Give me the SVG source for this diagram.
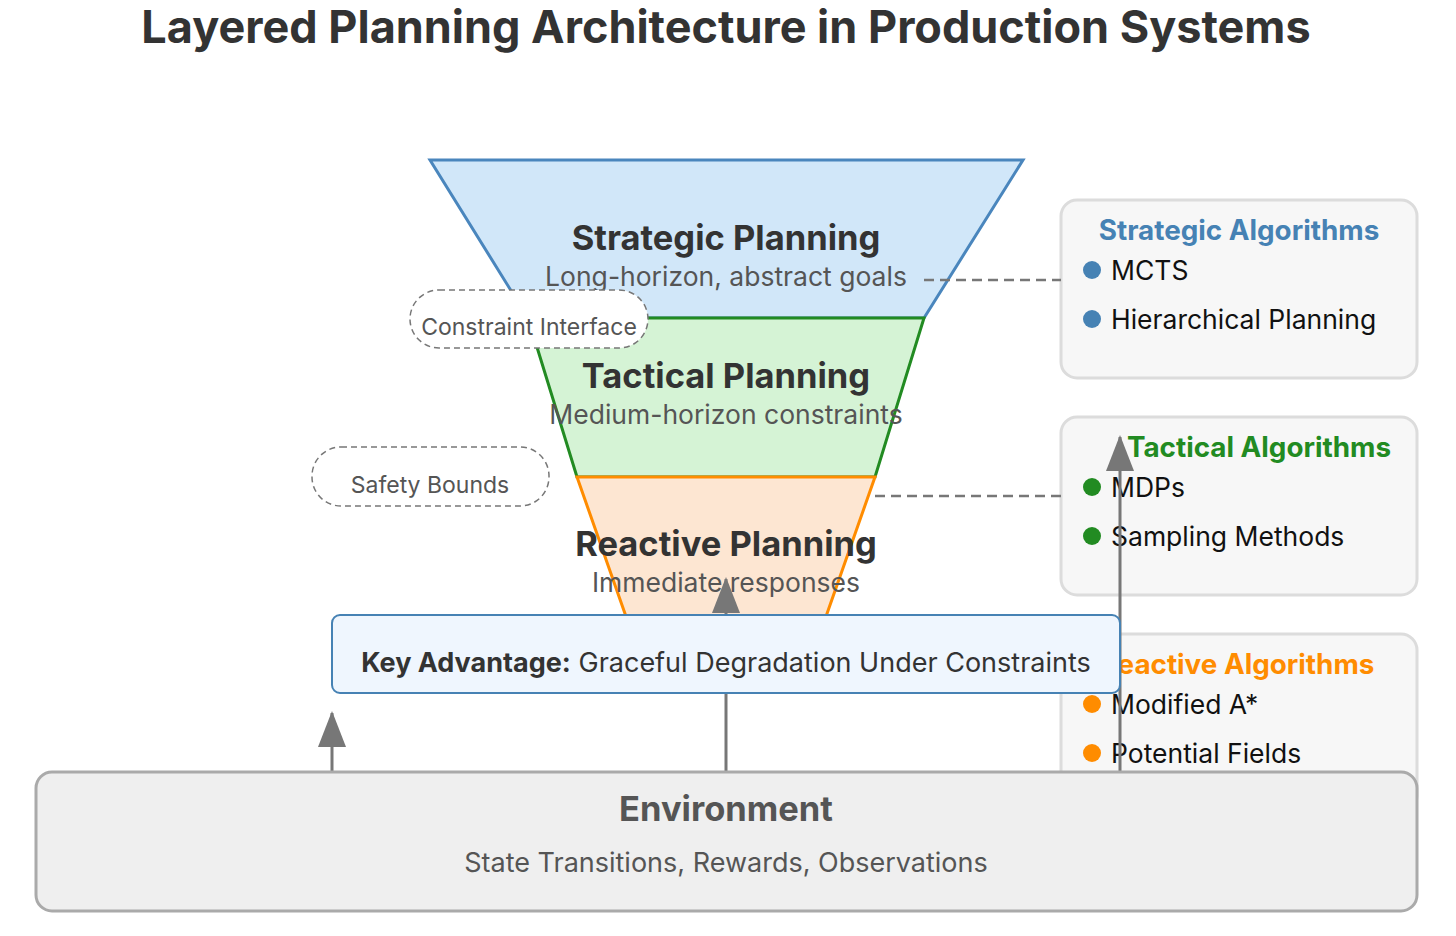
<svg xmlns="http://www.w3.org/2000/svg" width="1456" height="936" viewBox="0 0 1456 936">
<style>
text{font-family:Inter,"Noto Sans","Liberation Sans",sans-serif}
.title{font-size:45px;font-weight:700;fill:#333;text-anchor:middle}
.lt{font-size:34.5px;font-weight:700;fill:#333;text-anchor:middle}
.ld{font-size:26.5px;fill:#555;text-anchor:middle}
.bub{fill:#fff;stroke:#777;stroke-width:1.5;stroke-dasharray:6,4}
.bt{font-size:23px;fill:#555;text-anchor:middle}
.alg{fill:#f7f7f7;stroke:#dcdcdc;stroke-width:3}
.at{font-size:27.8px;font-weight:700;text-anchor:middle}
.it{font-size:26.5px;fill:#111}
.dash{stroke:#777;stroke-width:2.5;stroke-dasharray:10,6;fill:none}
.conn{stroke:#777;stroke-width:3;fill:none;marker-end:url(#ah)}
</style>
<defs>
<marker id="ah" markerUnits="userSpaceOnUse" markerWidth="36" markerHeight="28" refX="34" refY="14" orient="auto" viewBox="0 0 36 28">
<path d="M0,0 L36,14 L0,28 z" fill="#777"/>
</marker>
</defs>
<rect width="1456" height="936" fill="#fff"/>
<text class="title" x="726" y="43">Layered Planning Architecture in Production Systems</text>

<g id="strategic">
<polygon points="430,160 1023,160 924,318 528,318" fill="#d1e7f9" stroke="#4a86bd" stroke-width="3"/>
<text class="lt" x="726" y="250">Strategic Planning</text>
<text class="ld" x="726" y="286">Long-horizon, abstract goals</text>
</g>
<g id="tactical">
<polygon points="528,318 924,318 875,477 577,477" fill="#d5f3d5" stroke="#228b22" stroke-width="3"/>
<text class="lt" x="726" y="388">Tactical Planning</text>
<text class="ld" x="726" y="424">Medium-horizon constraints</text>
</g>
<g id="reactive">
<polygon points="577,477 875,477 823,625 629,625" fill="#fde6d2" stroke="#ff8c00" stroke-width="3"/>
<text class="lt" x="726" y="556">Reactive Planning</text>
<text class="ld" x="726" y="592">Immediate responses</text>
</g>

<g id="constraint-interface">
<rect class="bub" x="410" y="290" width="238" height="58" rx="29"/>
<text class="bt" x="529" y="335">Constraint Interface</text>
</g>
<g id="safety-bounds">
<rect class="bub" x="312" y="447" width="237" height="59" rx="29"/>
<text class="bt" x="430" y="493">Safety Bounds</text>
</g>

<g id="strategic-algorithms">
<rect class="alg" x="1061" y="200" width="356" height="178" rx="16"/>
<text class="at" x="1239" y="240" fill="#4682b4">Strategic Algorithms</text>
<circle cx="1092" cy="270" r="9" fill="#4682b4"/>
<text class="it" x="1111" y="280">MCTS</text>
<circle cx="1092" cy="319" r="9" fill="#4682b4"/>
<text class="it" x="1111" y="329">Hierarchical Planning</text>
</g>
<g id="tactical-algorithms">
<rect class="alg" x="1061" y="417" width="356" height="178" rx="16"/>
<text class="at" x="1259" y="457" fill="#228b22">Tactical Algorithms</text>
<circle cx="1092" cy="487" r="9" fill="#228b22"/>
<text class="it" x="1111" y="497">MDPs</text>
<circle cx="1092" cy="536" r="9" fill="#228b22"/>
<text class="it" x="1111" y="546">Sampling Methods</text>
</g>
<g id="reactive-algorithms">
<rect class="alg" x="1061" y="634" width="356" height="178" rx="16"/>
<text class="at" x="1237" y="674" fill="#ff8c00">Reactive Algorithms</text>
<circle cx="1092" cy="704" r="9" fill="#ff8c00"/>
<text class="it" x="1111" y="714">Modified A*</text>
<circle cx="1092" cy="753" r="9" fill="#ff8c00"/>
<text class="it" x="1111" y="763">Potential Fields</text>
</g>

<g id="connectors">
<line class="dash" x1="924" y1="280" x2="1061" y2="280"/>
<line class="dash" x1="875" y1="496" x2="1061" y2="496"/>
<line class="conn" x1="332" y1="772" x2="332" y2="713"/>
<line class="conn" x1="726" y1="772" x2="726" y2="579"/>
<line class="conn" x1="1120" y1="772" x2="1120" y2="437"/>
</g>

<g id="key-advantage">
<rect x="332" y="615" width="788" height="78" rx="8" fill="#eff6fe" stroke="#4682b4" stroke-width="2"/>
<text x="726" y="672" font-size="27" fill="#333" text-anchor="middle"><tspan font-weight="700">Key Advantage:</tspan> Graceful Degradation Under Constraints</text>
</g>

<g id="environment">
<rect x="36" y="772" width="1381" height="139" rx="16" fill="#efefef" stroke="#aaa" stroke-width="3"/>
<text x="726" y="821" font-size="34.5" font-weight="700" fill="#555" text-anchor="middle">Environment</text>
<text x="726" y="872" font-size="27" fill="#555" text-anchor="middle">State Transitions, Rewards, Observations</text>
</g>
</svg>
